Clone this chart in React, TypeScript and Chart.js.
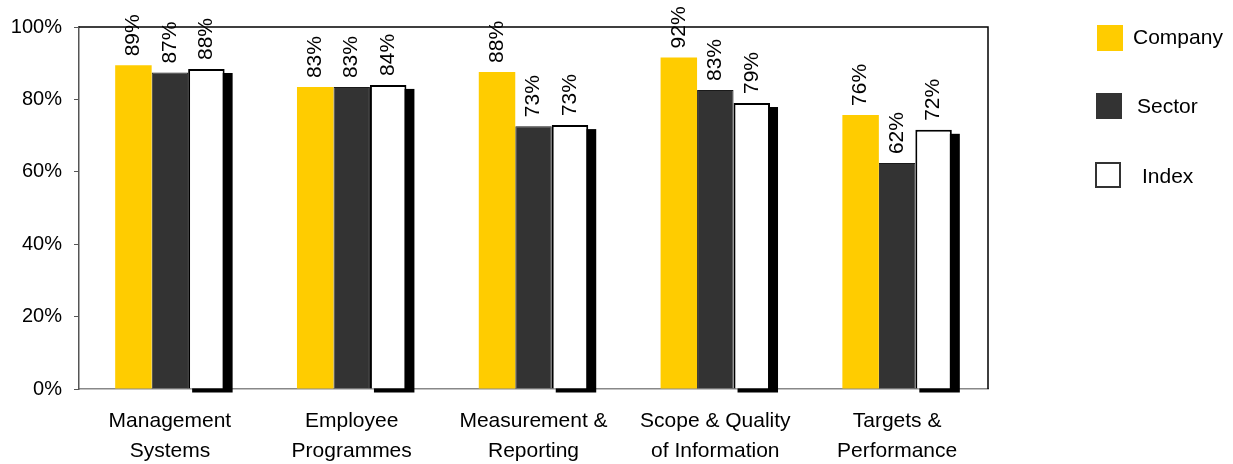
import React, { useEffect, useRef } from "react";
import { Chart, registerables } from "chart.js";

Chart.register(...registerables);

// Categories shown along the x axis (each split over two lines)
const categories: string[][] = [
  ["Management", "Systems"],
  ["Employee", "Programmes"],
  ["Measurement &", "Reporting"],
  ["Scope & Quality", "of Information"],
  ["Targets &", "Performance"],
];

// Scores in percent
const companyValues = [89.4, 83.4, 87.6, 91.6, 75.7];
const sectorValues = [87.4, 83.4, 72.6, 82.6, 62.4];
const indexValues = [88.4, 84.0, 72.9, 79.0, 71.6];

const yTicks = [0, 20, 40, 60, 80, 100];

const FONT = "'Liberation Sans', Arial, Helvetica, sans-serif";

// Drop shadow behind the Index bars
const shadowPlugin = {
  id: "barShadow",
  beforeDatasetsDraw(chart: any) {
    const meta = chart.getDatasetMeta(2);
    const ctx = chart.ctx;
    ctx.save();
    ctx.fillStyle = "#000";
    meta.data.forEach((bar: any) => {
      const p = bar.getProps(["x", "y", "base", "width"], true);
      const left = p.x - p.width / 2;
      ctx.fillRect(left + 4, p.y + 4, p.width + 4, p.base - p.y);
    });
    ctx.restore();
  },
};

// Rotated value labels above each bar
const valueLabelPlugin = {
  id: "valueLabels",
  afterDatasetsDraw(chart: any) {
    const ctx = chart.ctx;
    ctx.save();
    ctx.font = `21px ${FONT}`;
    ctx.fillStyle = "#000";
    ctx.textAlign = "left";
    ctx.textBaseline = "middle";
    chart.data.datasets.forEach((ds: any, di: number) => {
      const meta = chart.getDatasetMeta(di);
      meta.data.forEach((bar: any, i: number) => {
        const p = bar.getProps(["x", "y"], true);
        const text = Math.round(ds.data[i]) + "%";
        ctx.save();
        ctx.translate(p.x, p.y - 9);
        ctx.rotate(-Math.PI / 2);
        ctx.fillText(text, 0, 0);
        ctx.restore();
      });
    });
    ctx.restore();
  },
};

// Top and right frame lines plus the legend on the right
const framePlugin = {
  id: "frameAndLegend",
  afterDraw(chart: any) {
    const ctx = chart.ctx;
    const a = chart.chartArea;
    ctx.save();
    ctx.strokeStyle = "#000";
    ctx.lineWidth = 1.5;
    ctx.beginPath();
    ctx.moveTo(a.left, a.top);
    ctx.lineTo(a.right, a.top);
    ctx.lineTo(a.right, a.bottom);
    ctx.stroke();

    const items = [
      { label: "Company", fill: "#FFCC00", stroke: null, bx: 1097, by: 25, tx: 1133, ty: 38 },
      { label: "Sector", fill: "#333333", stroke: null, bx: 1096, by: 93, tx: 1137, ty: 107 },
      { label: "Index", fill: "#FFFFFF", stroke: "#333333", bx: 1095, by: 162, tx: 1142, ty: 177 },
    ];
    ctx.font = `21px ${FONT}`;
    ctx.textAlign = "left";
    ctx.textBaseline = "middle";
    items.forEach((it) => {
      ctx.fillStyle = it.fill;
      ctx.fillRect(it.bx, it.by, 26, 26);
      if (it.stroke) {
        ctx.strokeStyle = it.stroke;
        ctx.lineWidth = 2;
        ctx.strokeRect(it.bx + 1, it.by + 1, 24, 24);
      }
      ctx.fillStyle = "#000";
      ctx.fillText(it.label, it.tx, it.ty);
    });
    ctx.restore();
  },
};

export default function App() {
  const canvasRef = useRef<HTMLCanvasElement | null>(null);

  useEffect(() => {
    if (!canvasRef.current) return;
    const chart = new Chart(canvasRef.current, {
      type: "bar",
      data: {
        labels: categories,
        datasets: [
          {
            label: "Company",
            data: companyValues,
            backgroundColor: "#FFCC00",
            borderWidth: 0,
          },
          {
            label: "Sector",
            data: sectorValues,
            backgroundColor: "#333333",
            borderColor: "#1a1a1a",
            borderWidth: 1,
          },
          {
            label: "Index",
            data: indexValues,
            backgroundColor: "#FFFFFF",
            borderColor: "#000000",
            borderWidth: 2,
          },
        ],
      },
      options: {
        animation: false,
        responsive: true,
        maintainAspectRatio: false,
        layout: { padding: { left: 0, top: 27, right: 245, bottom: 0 } },
        datasets: {
          bar: { categoryPercentage: 0.602, barPercentage: 1.0 },
        },
        plugins: {
          legend: { display: false },
          tooltip: { enabled: false },
        },
        scales: {
          x: {
            grid: { display: false, drawTicks: false },
            border: { display: true, color: "#888888", width: 1.5 },
            ticks: {
              color: "#000",
              padding: 17,
              maxRotation: 0,
              autoSkip: false,
              font: { family: FONT, size: 21, lineHeight: 1.42 },
            },
            afterFit(scale: any) {
              scale.height = 75;
            },
          },
          y: {
            min: 0,
            max: 100,
            afterBuildTicks(scale: any) {
              scale.ticks = yTicks.map((v) => ({ value: v }));
            },
            grid: {
              display: true,
              drawOnChartArea: false,
              drawTicks: true,
              tickLength: 5,
              color: "#555555",
            },
            border: { display: true, color: "#555555", width: 1.5 },
            ticks: {
              color: "#000",
              padding: 12,
              font: { family: FONT, size: 20 },
              callback: (v: any) => v + "%",
            },
            afterFit(scale: any) {
              scale.width = 79;
            },
          },
        },
      },
      plugins: [shadowPlugin, valueLabelPlugin, framePlugin],
    });
    return () => chart.destroy();
  }, []);

  return (
    <div
      style={{
        position: "fixed",
        left: 0,
        top: 0,
        width: 1233,
        height: 464,
        background: "#fff",
      }}
    >
      <canvas ref={canvasRef} />
    </div>
  );
}
